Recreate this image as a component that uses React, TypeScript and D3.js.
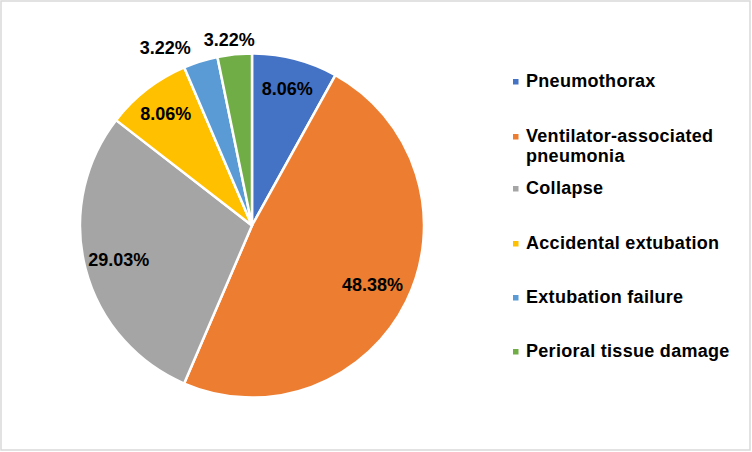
import React from "react";
import * as d3 from "d3";

const categories = [
  "Pneumothorax",
  "Ventilator-associated pneumonia",
  "Collapse",
  "Accidental extubation",
  "Extubation failure",
  "Perioral tissue damage",
];
const values = [8.06, 48.38, 29.03, 8.06, 3.22, 3.22];
const labels = ["8.06%", "48.38%", "29.03%", "8.06%", "3.22%", "3.22%"];
const legendLines = [
  ["Pneumothorax"],
  ["Ventilator-associated", "pneumonia"],
  ["Collapse"],
  ["Accidental extubation"],
  ["Extubation failure"],
  ["Perioral tissue damage"],
];
const colors = ["#4472C4", "#ED7D31", "#A5A5A5", "#FFC000", "#5B9BD5", "#70AD47"];
// label placement: radius factor relative to pie radius, and angle nudge (radians)
const labelRadius = [0.82, 0.78, 0.8, 0.82, 1.15, 1.09];
const labelAngleShift = [0, 0, 0, 0, -0.15, -0.02];

const W = 752;
const H = 452;
const cx = 252;
const cy = 225.5;
const R = 172;
const FONT = "'Liberation Sans', Arial, sans-serif";

export default function App() {
  const pie = d3
    .pie<number>()
    .sort(null)
    .value((d) => d)
    .startAngle(0)
    .endAngle(2 * Math.PI);
  const arcs = pie(values);
  const arc = d3.arc<d3.PieArcDatum<number>>().innerRadius(0).outerRadius(R);

  const legendY = d3
    .scalePoint<string>()
    .domain(categories)
    .range([81, 351]);

  // baselines tuned: each entry top line baseline
  const legendBaselines = [87, 142, 194, 249, 303, 357];

  return (
    <svg
      width={W}
      height={H}
      style={{ position: "absolute", left: 0, top: 0, background: "#fff" }}
      fontFamily={FONT}
    >
      <rect x={1} y={1} width={749} height={449} fill="#fff" stroke="#d9d9d9" strokeWidth={1.5} />
      <g transform={`translate(${cx},${cy})`}>
        {arcs.map((a, i) => (
          <path key={i} d={arc(a) || ""} fill={colors[i]} stroke="#fff" strokeWidth={2.5} strokeLinejoin="round" />
        ))}
        {arcs.map((a, i) => {
          const mid = (a.startAngle + a.endAngle) / 2 + labelAngleShift[i];
          const r = R * labelRadius[i];
          const x = Math.sin(mid) * r;
          const y = -Math.cos(mid) * r;
          return (
            <text
              key={"l" + i}
              x={x}
              y={y}
              dy="0.36em"
              textAnchor="middle"
              fontSize={18}
              fontWeight="bold"
              fill="#000"
            >
              {labels[i]}
            </text>
          );
        })}
      </g>
      <g>
        {categories.map((c, i) => {
          const b = legendBaselines[i];
          void legendY;
          return (
            <g key={c}>
              <rect x={513} y={b - 8} width={5.5} height={5.5} fill={colors[i]} />
              <text x={526} y={b} fontSize={18} fontWeight="bold" fill="#000" letterSpacing={0.3}>
                {legendLines[i].map((ln, j) => (
                  <tspan key={j} x={526} y={b + j * 20}>
                    {ln}
                  </tspan>
                ))}
              </text>
            </g>
          );
        })}
      </g>
    </svg>
  );
}
